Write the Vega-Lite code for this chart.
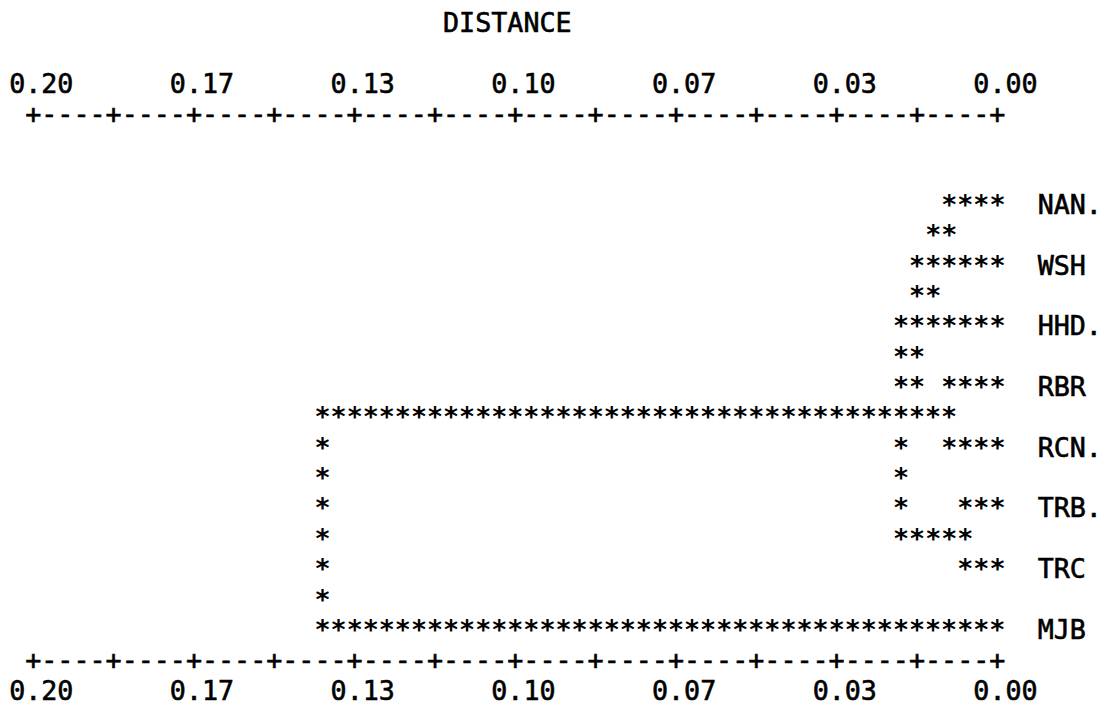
{
  "$schema": "https://vega.github.io/schema/vega-lite/v6.json",
  "width": 1109,
  "height": 708,
  "padding": 0,
  "autosize": {"type": "none"},
  "background": "white",
  "config": {"view": {"stroke": null}},
  "data": {
    "values": [
      {"line": -6, "col": 27, "text": "DISTANCE"},
      {"line": -4, "col": 0, "text": "0.20"},
      {"line": -4, "col": 10, "text": "0.17"},
      {"line": -4, "col": 20, "text": "0.13"},
      {"line": -4, "col": 30, "text": "0.10"},
      {"line": -4, "col": 40, "text": "0.07"},
      {"line": -4, "col": 50, "text": "0.03"},
      {"line": -4, "col": 60, "text": "0.00"},
      {"line": -3, "col": 1, "text": "+----+----+----+----+----+----+----+----+----+----+----+----+"},
      {"line": 0, "col": 58, "text": "****"},
      {"line": 0, "col": 64, "text": "NAN."},
      {"line": 1, "col": 57, "text": "**"},
      {"line": 2, "col": 56, "text": "******"},
      {"line": 2, "col": 64, "text": "WSH"},
      {"line": 3, "col": 56, "text": "**"},
      {"line": 4, "col": 55, "text": "*******"},
      {"line": 4, "col": 64, "text": "HHD."},
      {"line": 5, "col": 55, "text": "**"},
      {"line": 6, "col": 55, "text": "**"},
      {"line": 6, "col": 58, "text": "****"},
      {"line": 6, "col": 64, "text": "RBR"},
      {"line": 7, "col": 19, "text": "****************************************"},
      {"line": 8, "col": 19, "text": "*"},
      {"line": 8, "col": 55, "text": "*"},
      {"line": 8, "col": 58, "text": "****"},
      {"line": 8, "col": 64, "text": "RCN."},
      {"line": 9, "col": 19, "text": "*"},
      {"line": 9, "col": 55, "text": "*"},
      {"line": 10, "col": 19, "text": "*"},
      {"line": 10, "col": 55, "text": "*"},
      {"line": 10, "col": 59, "text": "***"},
      {"line": 10, "col": 64, "text": "TRB."},
      {"line": 11, "col": 19, "text": "*"},
      {"line": 11, "col": 55, "text": "*****"},
      {"line": 12, "col": 19, "text": "*"},
      {"line": 12, "col": 59, "text": "***"},
      {"line": 12, "col": 64, "text": "TRC"},
      {"line": 13, "col": 19, "text": "*"},
      {"line": 14, "col": 19, "text": "*******************************************"},
      {"line": 14, "col": 64, "text": "MJB"},
      {"line": 15, "col": 1, "text": "+----+----+----+----+----+----+----+----+----+----+----+----+"},
      {"line": 16, "col": 0, "text": "0.20"},
      {"line": 16, "col": 10, "text": "0.17"},
      {"line": 16, "col": 20, "text": "0.13"},
      {"line": 16, "col": 30, "text": "0.10"},
      {"line": 16, "col": 40, "text": "0.07"},
      {"line": 16, "col": 50, "text": "0.03"},
      {"line": 16, "col": 60, "text": "0.00"}
    ]
  },
  "encoding": {
    "x": {"field": "col", "type": "quantitative", "scale": {"domain": [-0.57, 68.44], "nice": false, "zero": false}, "axis": null},
    "y": {"field": "line", "type": "quantitative", "scale": {"domain": [-7.051, 16.277], "nice": false, "zero": false, "reverse": true}, "axis": null},
    "text": {"field": "text", "type": "nominal"}
  },
  "layer": [
    {
      "transform": [{"filter": "indexof(datum.text, '*') >= 0"}],
      "mark": {
        "type": "text",
        "align": "left",
        "baseline": "alphabetic",
        "font": "DejaVu Sans Mono",
        "fontWeight": "bold",
        "fontSize": 26.69,
        "color": "black"
      }
    },
    {
      "transform": [{"filter": "indexof(datum.text, '*') < 0"}],
      "mark": {
        "type": "text",
        "align": "left",
        "baseline": "alphabetic",
        "font": "DejaVu Sans Mono",
        "fontWeight": "normal",
        "fontSize": 26.69,
        "color": "black",
        "stroke": "black",
        "strokeWidth": 0.6
      }
    }
  ]
}
